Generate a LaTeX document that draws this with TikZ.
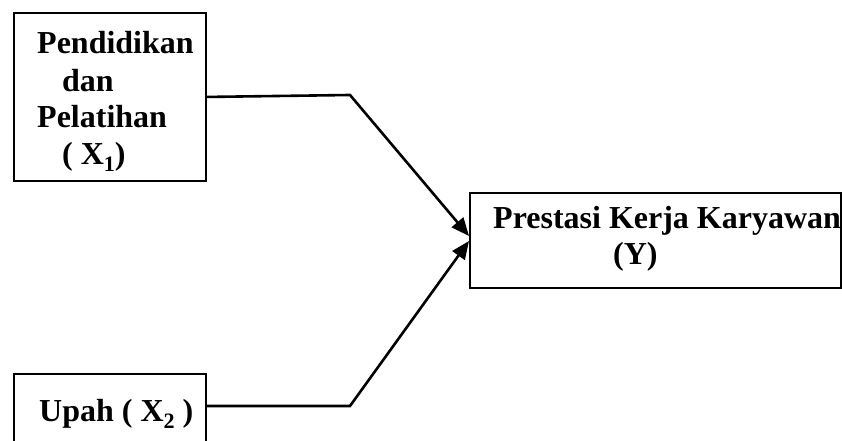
\documentclass[tikz,border=0pt]{standalone}
\usepackage{fontspec}
\setmainfont{Liberation Serif}
\usetikzlibrary{arrows.meta,calc}
\newcommand{\mysub}[1]{\raisebox{-0.2em}{\fontsize{22}{22}\selectfont #1}}
\begin{document}
\begin{tikzpicture}[x=1pt,y=1pt,
  boxst/.style={draw,line width=1.9pt,rectangle,inner sep=0pt,anchor=north west},
  lbl/.style={font=\fontsize{32}{37}\selectfont\bfseries,inner sep=0pt,anchor=base west},
  conn/.style={line width=2.6pt,-{Triangle[length=18pt,width=15pt]}}]
\useasboundingbox (0,0) rectangle (842,441);
\clip (0,0) rectangle (842,441);
% boxes
\node[boxst,minimum width=192pt,minimum height=168pt] (b1) at (13,429) {};
\node[boxst,minimum width=192pt,minimum height=100pt] (b2) at (13,68) {};
\node[boxst,minimum width=371pt,minimum height=95pt] (by) at (469,249) {};
% texts
\node[lbl] (t1a) at (37,387) {Pendidikan};
\node[lbl] (t1b) at (62,349) {dan};
\node[lbl] (t1c) at (37,313) {Pelatihan};
\node[lbl] (t1d) at (62,276) {( X\mysub{1})};
\node[lbl] (t2) at (39,19) {Upah ( X\mysub{2} )};
\node[lbl] (ty1) at (493,212) {Prestasi Kerja Karyawan};
\node[lbl] (ty2) at (613,176) {(Y)};
% connector points
\coordinate (k1) at (350,346);
\coordinate (k2) at (350,35);
\coordinate (s2) at (b2.west |- k2);
\coordinate (e1) at ($(by.north west)+(0,-44)$);
\coordinate (e2) at ($(by.north west)+(0,-49)$);
\draw[conn] (b1.east) -- (k1) -- (e1);
\draw[conn] ([xshift=192pt]s2) -- (k2) -- (e2);
\end{tikzpicture}
\end{document}
